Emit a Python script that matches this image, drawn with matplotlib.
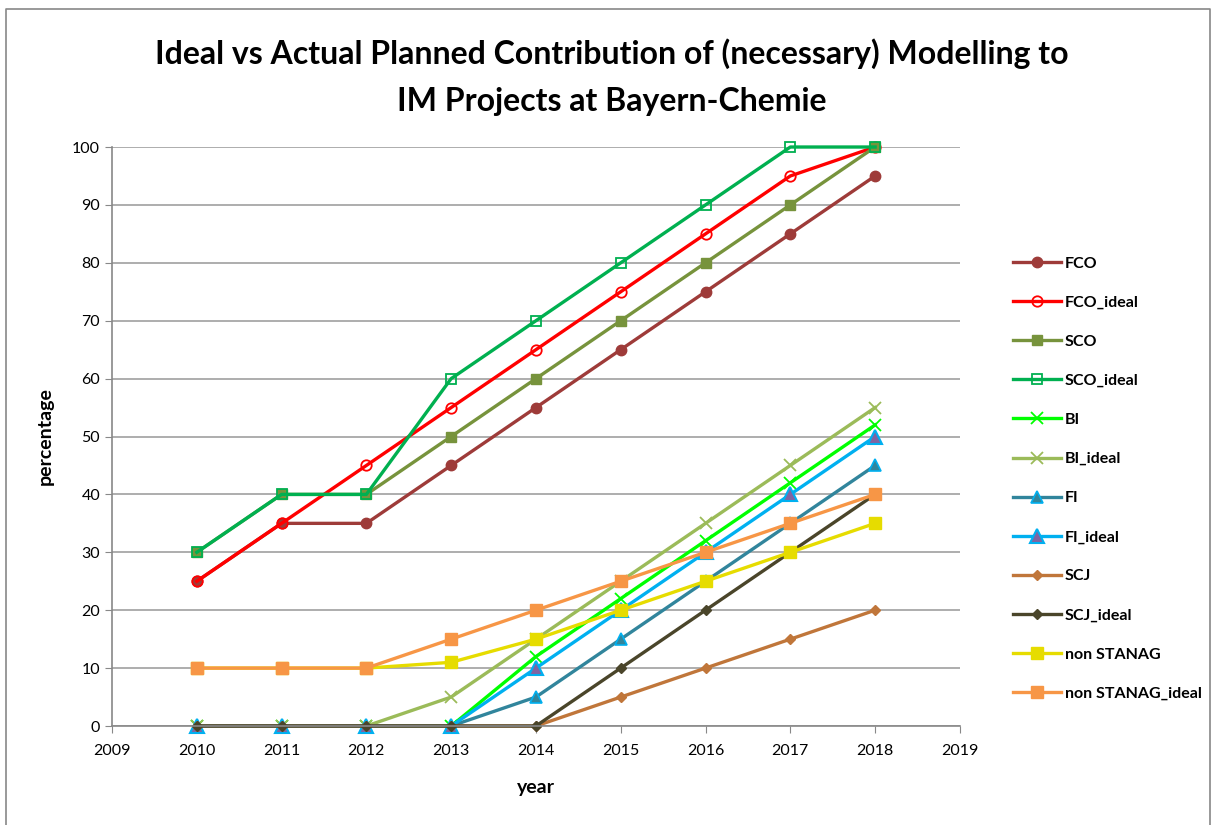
import matplotlib.pyplot as plt
from matplotlib.lines import Line2D

years = [2010, 2011, 2012, 2013, 2014, 2015, 2016, 2017, 2018]

fco = [25, 35, 35, 45, 55, 65, 75, 85, 95]
fco_ideal = [25, 35, 45, 55, 65, 75, 85, 95, 100]
sco = [30, 40, 40, 50, 60, 70, 80, 90, 100]
sco_ideal = [30, 40, 40, 60, 70, 80, 90, 100, 100]
bi = [0, 0, 0, 0, 12, 22, 32, 42, 52]
bi_ideal = [0, 0, 0, 5, 15, 25, 35, 45, 55]
fi = [0, 0, 0, 0, 5, 15, 25, 35, 45]
fi_ideal = [0, 0, 0, 0, 10, 20, 30, 40, 50]
scj = [0, 0, 0, 0, 0, 5, 10, 15, 20]
scj_ideal = [0, 0, 0, 0, 0, 10, 20, 30, 40]
non_stanag = [10, 10, 10, 11, 15, 20, 25, 30, 35]
non_stanag_ideal = [10, 10, 10, 15, 20, 25, 30, 35, 40]

series = [
    ("FCO", fco, dict(color="#9E3B39", marker="o", mfc="#9E3B39", mec="#9E3B39", ms=7.5)),
    ("FCO_ideal", fco_ideal, dict(color="#FF0000", marker="o", mfc="none", mec="#FF0000", ms=7.5, mew=1.3)),
    ("SCO", sco, dict(color="#77933C", marker="s", mfc="#77933C", mec="#77933C", ms=7)),
    ("SCO_ideal", sco_ideal, dict(color="#00B050", marker="s", mfc="none", mec="#00B050", ms=7, mew=1.3)),
    ("BI", bi, dict(color="#00FF00", marker="x", mec="#00FF00", ms=8, mew=1.3)),
    ("BI_ideal", bi_ideal, dict(color="#9BBB59", marker="x", mec="#9BBB59", ms=8, mew=1.3)),
    ("FI", fi, dict(color="#31859C", marker="^", mfc="#31859C", mec="#00B0F0", ms=8, mew=1.2)),
    ("FI_ideal", fi_ideal, dict(color="#00B0F0", marker="^", mfc="#8064A2", mec="#00B0F0", ms=10, mew=1.5)),
    ("SCJ", scj, dict(color="#C0763A", marker="D", mfc="#C0763A", mec="#C0763A", ms=5.5)),
    ("SCJ_ideal", scj_ideal, dict(color="#4A452A", marker="D", mfc="#4A452A", mec="#4A452A", ms=5.5)),
    ("non STANAG", non_stanag, dict(color="#E6DC00", marker="s", mfc="#E6DC00", mec="#E6DC00", ms=8)),
    ("non STANAG_ideal", non_stanag_ideal, dict(color="#F79646", marker="s", mfc="#F79646", mec="#F79646", ms=8)),
]

plt.rcParams['font.family'] = ['Lato', 'DejaVu Sans']

fig = plt.figure(figsize=(12.12, 8.25), dpi=100)
ax = fig.add_axes([0.0924, 0.12, 0.6996, 0.7018])

for name, vals, style in series:
    ax.plot(years, vals, lw=2.4, label=name, clip_on=False, **style)

ax.set_xlim(2009, 2019)
ax.set_ylim(0, 100)
ax.set_xticks(range(2009, 2020))
ax.set_yticks(range(0, 101, 10))
ax.tick_params(axis='both', labelsize=11.5, color='#888888', length=5)
ax.tick_params(axis='x', pad=8)
ax.yaxis.grid(True, color='#A0A0A0', lw=1.2)
ax.set_axisbelow(True)
for side in ['top', 'right']:
    ax.spines[side].set_visible(False)
for side in ['left', 'bottom']:
    ax.spines[side].set_color('#888888')
    ax.spines[side].set_linewidth(1.2)

ax.set_xlabel('year', fontsize=14, fontweight='bold', labelpad=15)
ax.set_ylabel('percentage', fontsize=14, fontweight='bold', labelpad=13)

fig.text(0.505, 0.935, 'Ideal vs Actual Planned Contribution of (necessary) Modelling to',
         fontsize=23, fontweight='bold', ha='center', va='center')
fig.text(0.505, 0.877, 'IM Projects at Bayern-Chemie',
         fontsize=23, fontweight='bold', ha='center', va='center')

ax.legend(loc='upper left', bbox_to_anchor=(1.055, 0.822), frameon=False, fontsize=11.5,
          handlelength=3.0, labelspacing=1.56, handletextpad=0.25, borderaxespad=0)
for t in ax.get_legend().get_texts():
    t.set_fontweight('bold')

# outer frame (left, top, right edges)
frame_x = [0.005, 0.005, 0.998, 0.998]
frame_y = [0.0, 0.989, 0.989, 0.0]
fig.add_artist(Line2D(frame_x, frame_y, transform=fig.transFigure, color='#888888', lw=1.2))

fig.savefig('out.png', dpi=100)
